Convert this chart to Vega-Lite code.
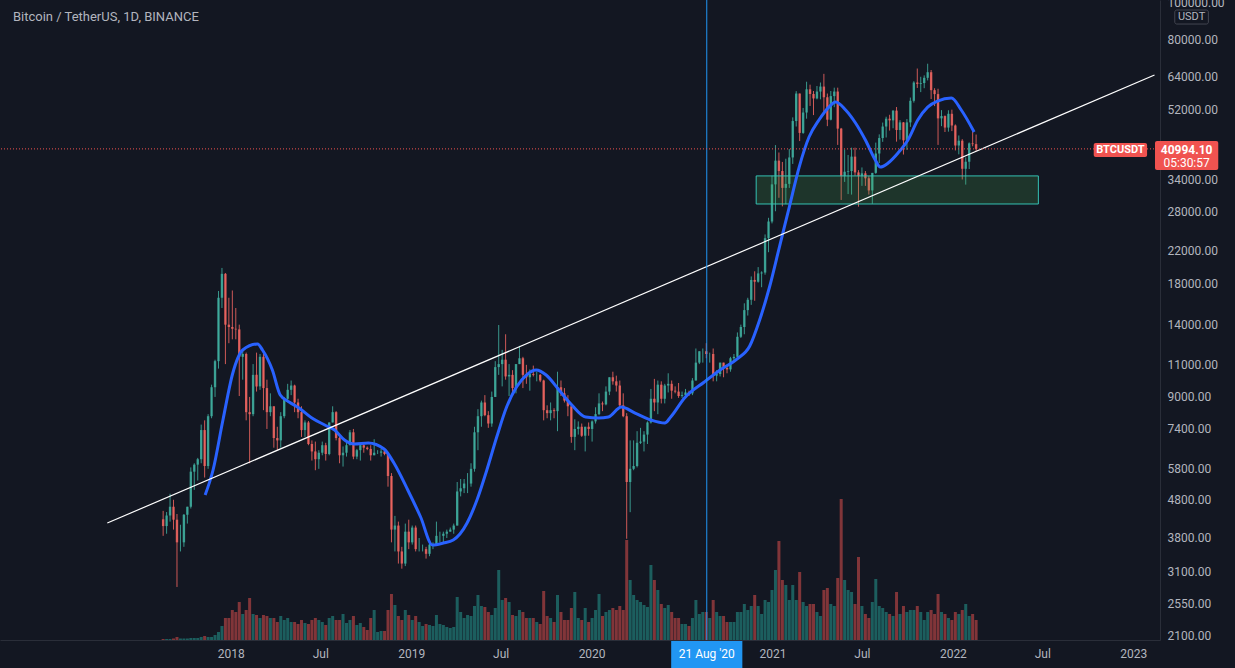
{
"$schema":"https://vega.github.io/schema/vega-lite/v6.json",
"width":1160,"height":640,
"autosize":{"type":"none"},
"padding":{"left":0,"top":0,"right":75,"bottom":28},
"background":"#131722",
"config":{"view":{"stroke":null},"font":"Roboto","text":{"font":"Roboto"}},
"datasets":{
"candles":[
{"d":"2017-08-17","o":4261,"h":4485,"l":3850,"c":4087,"v":1500},
{"d":"2017-08-24","o":4087,"h":4453,"l":3900,"c":4360,"v":1500},
{"d":"2017-08-31","o":4360,"h":4980,"l":4200,"c":4600,"v":1500},
{"d":"2017-09-07","o":4600,"h":4800,"l":4000,"c":4250,"v":2250},
{"d":"2017-09-14","o":4250,"h":4400,"l":2817,"c":3700,"v":4500},
{"d":"2017-09-21","o":3700,"h":4120,"l":3500,"c":3700,"v":2250},
{"d":"2017-09-28","o":3700,"h":4400,"l":3600,"c":4380,"v":2250},
{"d":"2017-10-05","o":4380,"h":4600,"l":4150,"c":4600,"v":2250},
{"d":"2017-10-12","o":4600,"h":5850,"l":4550,"c":5700,"v":3000},
{"d":"2017-10-19","o":5700,"h":6000,"l":5100,"c":5950,"v":3000},
{"d":"2017-10-26","o":5950,"h":6200,"l":5400,"c":6150,"v":3000},
{"d":"2017-11-02","o":6150,"h":7600,"l":6000,"c":7350,"v":4500},
{"d":"2017-11-09","o":7350,"h":7800,"l":5500,"c":5900,"v":6000},
{"d":"2017-11-16","o":5900,"h":8100,"l":5800,"c":8000,"v":4500},
{"d":"2017-11-23","o":8000,"h":9700,"l":7900,"c":9550,"v":4500},
{"d":"2017-11-30","o":9550,"h":11300,"l":9000,"c":11200,"v":7500},
{"d":"2017-12-07","o":11200,"h":17200,"l":10700,"c":16500,"v":12000},
{"d":"2017-12-14","o":16500,"h":19800,"l":15500,"c":19100,"v":21000},
{"d":"2017-12-21","o":19100,"h":19200,"l":11000,"c":14000,"v":33000},
{"d":"2017-12-28","o":14000,"h":16500,"l":12500,"c":13800,"v":33000},
{"d":"2018-01-04","o":13800,"h":17250,"l":12800,"c":13650,"v":45000},
{"d":"2018-01-11","o":13650,"h":15500,"l":12800,"c":13600,"v":42000},
{"d":"2018-01-18","o":13600,"h":14000,"l":9050,"c":11500,"v":57000},
{"d":"2018-01-25","o":11500,"h":12000,"l":10000,"c":11700,"v":39000},
{"d":"2018-02-01","o":11700,"h":11800,"l":7800,"c":8200,"v":45000},
{"d":"2018-02-08","o":8200,"h":9000,"l":6000,"c":8100,"v":63000},
{"d":"2018-02-15","o":8100,"h":11000,"l":8000,"c":10300,"v":39000},
{"d":"2018-02-22","o":10300,"h":11800,"l":9300,"c":9600,"v":37500},
{"d":"2018-03-01","o":9600,"h":11700,"l":9400,"c":11500,"v":33000},
{"d":"2018-03-08","o":11500,"h":11700,"l":8300,"c":9500,"v":37500},
{"d":"2018-03-15","o":9500,"h":10000,"l":7400,"c":8200,"v":36000},
{"d":"2018-03-22","o":8200,"h":9200,"l":8000,"c":8500,"v":33000},
{"d":"2018-03-29","o":8500,"h":8500,"l":6600,"c":7000,"v":33000},
{"d":"2018-04-05","o":7000,"h":7500,"l":6500,"c":6900,"v":27000},
{"d":"2018-04-12","o":6900,"h":8200,"l":6600,"c":8000,"v":36000},
{"d":"2018-04-19","o":8000,"h":9000,"l":7900,"c":8900,"v":30000},
{"d":"2018-04-26","o":8900,"h":9750,"l":8700,"c":9400,"v":33000},
{"d":"2018-05-03","o":9400,"h":9950,"l":9100,"c":9650,"v":27000},
{"d":"2018-05-10","o":9650,"h":9700,"l":8200,"c":8700,"v":27000},
{"d":"2018-05-17","o":8700,"h":8900,"l":7900,"c":8200,"v":24000},
{"d":"2018-05-24","o":8200,"h":8500,"l":7050,"c":7350,"v":30000},
{"d":"2018-05-31","o":7350,"h":7800,"l":7050,"c":7700,"v":25500},
{"d":"2018-06-07","o":7700,"h":7770,"l":6700,"c":6750,"v":24000},
{"d":"2018-06-14","o":6750,"h":6900,"l":6100,"c":6450,"v":30000},
{"d":"2018-06-21","o":6450,"h":6850,"l":5750,"c":6150,"v":33000},
{"d":"2018-06-28","o":6150,"h":6500,"l":5800,"c":6400,"v":30000},
{"d":"2018-07-05","o":6400,"h":6850,"l":6300,"c":6700,"v":27000},
{"d":"2018-07-12","o":6700,"h":6800,"l":6100,"c":6350,"v":22500},
{"d":"2018-07-19","o":6350,"h":7700,"l":6300,"c":7700,"v":33000},
{"d":"2018-07-26","o":7700,"h":8500,"l":7700,"c":8200,"v":36000},
{"d":"2018-08-02","o":8200,"h":8250,"l":6900,"c":7000,"v":30000},
{"d":"2018-08-09","o":7000,"h":7150,"l":6000,"c":6300,"v":30000},
{"d":"2018-08-16","o":6300,"h":6650,"l":5880,"c":6400,"v":39000},
{"d":"2018-08-23","o":6400,"h":6900,"l":6250,"c":6700,"v":25500},
{"d":"2018-08-30","o":6700,"h":7350,"l":6700,"c":7250,"v":30000},
{"d":"2018-09-06","o":7250,"h":7400,"l":6150,"c":6250,"v":36000},
{"d":"2018-09-13","o":6250,"h":6550,"l":6150,"c":6500,"v":22500},
{"d":"2018-09-20","o":6500,"h":6800,"l":6100,"c":6700,"v":25500},
{"d":"2018-09-27","o":6700,"h":6750,"l":6400,"c":6600,"v":19500},
{"d":"2018-10-04","o":6600,"h":6650,"l":6500,"c":6550,"v":15000},
{"d":"2018-10-11","o":6550,"h":6700,"l":6100,"c":6300,"v":33000},
{"d":"2018-10-18","o":6300,"h":6950,"l":6300,"c":6400,"v":45000},
{"d":"2018-10-25","o":6400,"h":6500,"l":6350,"c":6400,"v":12000},
{"d":"2018-11-01","o":6400,"h":6550,"l":6250,"c":6450,"v":13500},
{"d":"2018-11-08","o":6450,"h":6550,"l":6300,"c":6350,"v":13500},
{"d":"2018-11-15","o":6350,"h":6400,"l":5200,"c":5550,"v":45000},
{"d":"2018-11-22","o":5550,"h":5650,"l":3700,"c":4000,"v":69000},
{"d":"2018-11-29","o":4000,"h":4350,"l":3500,"c":4100,"v":52500},
{"d":"2018-12-06","o":4100,"h":4200,"l":3250,"c":3500,"v":36000},
{"d":"2018-12-13","o":3500,"h":3600,"l":3150,"c":3250,"v":30000},
{"d":"2018-12-20","o":3250,"h":4150,"l":3200,"c":3950,"v":45000},
{"d":"2018-12-27","o":3950,"h":4250,"l":3550,"c":3700,"v":37500},
{"d":"2019-01-03","o":3700,"h":4100,"l":3650,"c":4050,"v":30000},
{"d":"2019-01-10","o":4050,"h":4100,"l":3500,"c":3550,"v":36000},
{"d":"2019-01-17","o":3550,"h":3800,"l":3500,"c":3550,"v":27000},
{"d":"2019-01-24","o":3550,"h":3650,"l":3500,"c":3550,"v":21000},
{"d":"2019-01-31","o":3550,"h":3600,"l":3350,"c":3450,"v":24000},
{"d":"2019-02-07","o":3450,"h":3700,"l":3400,"c":3650,"v":22500},
{"d":"2019-02-14","o":3650,"h":3700,"l":3550,"c":3650,"v":21000},
{"d":"2019-02-21","o":3650,"h":4200,"l":3650,"c":3850,"v":37500},
{"d":"2019-02-28","o":3850,"h":3950,"l":3700,"c":3850,"v":24000},
{"d":"2019-03-07","o":3850,"h":3950,"l":3700,"c":3900,"v":22500},
{"d":"2019-03-14","o":3900,"h":4000,"l":3800,"c":3950,"v":19500},
{"d":"2019-03-21","o":3950,"h":4050,"l":3950,"c":4000,"v":18000},
{"d":"2019-03-28","o":4000,"h":4150,"l":3900,"c":4100,"v":19500},
{"d":"2019-04-04","o":4100,"h":5350,"l":4100,"c":5050,"v":64500},
{"d":"2019-04-11","o":5050,"h":5450,"l":4900,"c":5150,"v":42000},
{"d":"2019-04-18","o":5150,"h":5450,"l":5000,"c":5300,"v":33000},
{"d":"2019-04-25","o":5300,"h":5650,"l":5000,"c":5300,"v":37500},
{"d":"2019-05-02","o":5300,"h":6000,"l":5200,"c":5800,"v":36000},
{"d":"2019-05-09","o":5800,"h":7500,"l":5700,"c":7250,"v":51000},
{"d":"2019-05-16","o":7250,"h":8350,"l":6500,"c":8000,"v":67500},
{"d":"2019-05-23","o":8000,"h":8800,"l":7500,"c":8700,"v":51000},
{"d":"2019-05-30","o":8700,"h":9100,"l":8000,"c":8050,"v":49500},
{"d":"2019-06-06","o":8050,"h":8250,"l":7450,"c":7650,"v":42000},
{"d":"2019-06-13","o":7650,"h":9300,"l":7500,"c":9000,"v":37500},
{"d":"2019-06-20","o":9000,"h":11200,"l":9000,"c":10800,"v":48000},
{"d":"2019-06-27","o":10800,"h":13970,"l":10300,"c":11000,"v":105000},
{"d":"2019-07-04","o":11000,"h":12000,"l":9600,"c":11300,"v":60000},
{"d":"2019-07-11","o":11300,"h":13200,"l":10000,"c":10200,"v":63000},
{"d":"2019-07-18","o":10200,"h":11000,"l":9050,"c":10300,"v":57000},
{"d":"2019-07-25","o":10300,"h":10600,"l":9200,"c":9500,"v":37500},
{"d":"2019-08-01","o":9500,"h":11000,"l":9200,"c":11000,"v":36000},
{"d":"2019-08-08","o":11000,"h":12300,"l":11000,"c":11400,"v":45000},
{"d":"2019-08-15","o":11400,"h":11500,"l":9500,"c":10300,"v":42000},
{"d":"2019-08-22","o":10300,"h":10950,"l":9750,"c":10150,"v":33000},
{"d":"2019-08-29","o":10150,"h":10650,"l":9350,"c":10350,"v":33000},
{"d":"2019-09-05","o":10350,"h":10900,"l":10200,"c":10300,"v":33000},
{"d":"2019-09-12","o":10300,"h":10500,"l":9900,"c":10300,"v":27000},
{"d":"2019-09-19","o":10300,"h":10350,"l":9850,"c":9950,"v":24000},
{"d":"2019-09-26","o":9950,"h":10000,"l":7800,"c":8300,"v":73500},
{"d":"2019-10-03","o":8300,"h":8550,"l":7900,"c":8150,"v":36000},
{"d":"2019-10-10","o":8150,"h":8700,"l":7800,"c":8300,"v":33000},
{"d":"2019-10-17","o":8300,"h":8400,"l":7900,"c":8250,"v":27000},
{"d":"2019-10-24","o":8250,"h":10500,"l":7300,"c":9550,"v":67500},
{"d":"2019-10-31","o":9550,"h":9950,"l":9050,"c":9200,"v":42000},
{"d":"2019-11-07","o":9200,"h":9500,"l":8700,"c":8800,"v":30000},
{"d":"2019-11-14","o":8800,"h":9100,"l":8000,"c":8500,"v":30000},
{"d":"2019-11-21","o":8500,"h":8500,"l":6800,"c":7050,"v":48000},
{"d":"2019-11-28","o":7050,"h":7850,"l":6500,"c":7400,"v":72000},
{"d":"2019-12-05","o":7400,"h":7750,"l":7150,"c":7500,"v":33000},
{"d":"2019-12-12","o":7500,"h":7650,"l":7050,"c":7100,"v":30000},
{"d":"2019-12-19","o":7100,"h":7500,"l":6450,"c":7500,"v":48000},
{"d":"2019-12-26","o":7500,"h":7700,"l":7100,"c":7400,"v":27000},
{"d":"2020-01-02","o":7400,"h":7800,"l":6850,"c":7750,"v":33000},
{"d":"2020-01-09","o":7750,"h":8450,"l":7650,"c":8100,"v":45000},
{"d":"2020-01-16","o":8100,"h":9200,"l":8050,"c":8650,"v":69000},
{"d":"2020-01-23","o":8650,"h":8750,"l":8250,"c":8600,"v":36000},
{"d":"2020-01-30","o":8600,"h":9600,"l":8550,"c":9300,"v":42000},
{"d":"2020-02-06","o":9300,"h":10150,"l":9100,"c":10150,"v":45000},
{"d":"2020-02-13","o":10150,"h":10500,"l":9700,"c":9900,"v":48000},
{"d":"2020-02-20","o":9900,"h":10250,"l":9300,"c":9650,"v":45000},
{"d":"2020-02-27","o":9650,"h":9950,"l":8450,"c":8550,"v":51000},
{"d":"2020-03-05","o":8550,"h":9200,"l":7950,"c":8000,"v":45000},
{"d":"2020-03-12","o":8000,"h":8150,"l":3782,"c":5350,"v":150000},
{"d":"2020-03-19","o":5350,"h":6900,"l":4450,"c":5800,"v":90000},
{"d":"2020-03-26","o":5800,"h":6900,"l":5750,"c":5900,"v":67500},
{"d":"2020-04-02","o":5900,"h":7300,"l":5850,"c":6800,"v":60000},
{"d":"2020-04-09","o":6800,"h":7450,"l":6750,"c":6850,"v":57000},
{"d":"2020-04-16","o":6850,"h":7300,"l":6450,"c":7150,"v":52500},
{"d":"2020-04-23","o":7150,"h":7750,"l":6750,"c":7700,"v":49500},
{"d":"2020-04-30","o":7700,"h":9450,"l":7650,"c":8900,"v":112500},
{"d":"2020-05-07","o":8900,"h":10050,"l":8250,"c":8700,"v":90000},
{"d":"2020-05-14","o":8700,"h":9950,"l":8100,"c":9700,"v":75000},
{"d":"2020-05-21","o":9700,"h":9900,"l":8650,"c":8900,"v":54000},
{"d":"2020-05-28","o":8900,"h":9750,"l":8650,"c":9650,"v":48000},
{"d":"2020-06-04","o":9650,"h":10400,"l":9250,"c":9750,"v":52500},
{"d":"2020-06-11","o":9750,"h":9950,"l":8900,"c":9350,"v":42000},
{"d":"2020-06-18","o":9350,"h":9600,"l":9200,"c":9300,"v":33000},
{"d":"2020-06-25","o":9300,"h":9800,"l":8950,"c":9050,"v":33000},
{"d":"2020-07-02","o":9050,"h":9300,"l":8950,"c":9100,"v":24000},
{"d":"2020-07-09","o":9100,"h":9450,"l":9050,"c":9250,"v":24000},
{"d":"2020-07-16","o":9250,"h":9350,"l":9050,"c":9200,"v":21000},
{"d":"2020-07-23","o":9200,"h":10100,"l":9100,"c":9950,"v":33000},
{"d":"2020-07-30","o":9950,"h":12100,"l":9950,"c":11100,"v":60000},
{"d":"2020-08-06","o":11100,"h":11900,"l":11000,"c":11900,"v":39000},
{"d":"2020-08-13","o":11900,"h":12100,"l":11100,"c":11900,"v":42000},
{"d":"2020-08-20","o":11900,"h":12500,"l":11400,"c":11700,"v":42000},
{"d":"2020-08-27","o":11700,"h":11800,"l":11100,"c":11700,"v":33000},
{"d":"2020-09-03","o":11700,"h":12100,"l":9900,"c":10250,"v":60000},
{"d":"2020-09-10","o":10250,"h":10600,"l":9900,"c":10350,"v":42000},
{"d":"2020-09-17","o":10350,"h":11100,"l":10200,"c":11100,"v":36000},
{"d":"2020-09-24","o":11100,"h":11100,"l":10150,"c":10750,"v":36000},
{"d":"2020-10-01","o":10750,"h":10900,"l":10400,"c":10650,"v":27000},
{"d":"2020-10-08","o":10650,"h":11500,"l":10500,"c":11400,"v":27000},
{"d":"2020-10-15","o":11400,"h":11700,"l":11200,"c":11500,"v":27000},
{"d":"2020-10-22","o":11500,"h":13350,"l":11400,"c":13000,"v":42000},
{"d":"2020-10-29","o":13000,"h":14000,"l":12900,"c":13800,"v":42000},
{"d":"2020-11-05","o":13800,"h":15950,"l":13200,"c":15300,"v":54000},
{"d":"2020-11-12","o":15300,"h":16500,"l":14800,"c":16300,"v":45000},
{"d":"2020-11-19","o":16300,"h":18800,"l":15800,"c":18400,"v":51000},
{"d":"2020-11-26","o":18400,"h":19400,"l":16200,"c":18200,"v":67500},
{"d":"2020-12-03","o":18200,"h":19900,"l":18100,"c":19150,"v":51000},
{"d":"2020-12-10","o":19150,"h":19400,"l":17600,"c":19250,"v":39000},
{"d":"2020-12-17","o":19250,"h":24300,"l":19000,"c":23750,"v":60000},
{"d":"2020-12-24","o":23750,"h":26900,"l":21800,"c":26300,"v":57000},
{"d":"2020-12-31","o":26300,"h":34800,"l":26000,"c":33000,"v":75000},
{"d":"2021-01-07","o":33000,"h":41950,"l":28000,"c":38150,"v":105000},
{"d":"2021-01-14","o":38150,"h":40100,"l":30400,"c":35800,"v":148500},
{"d":"2021-01-21","o":35800,"h":37850,"l":28850,"c":32300,"v":90000},
{"d":"2021-01-28","o":32300,"h":38600,"l":29250,"c":33100,"v":82500},
{"d":"2021-02-04","o":33100,"h":40950,"l":32300,"c":38900,"v":60000},
{"d":"2021-02-11","o":38900,"h":49700,"l":37400,"c":48600,"v":82500},
{"d":"2021-02-18","o":48600,"h":58350,"l":47000,"c":57500,"v":60000},
{"d":"2021-02-25","o":57500,"h":57500,"l":43000,"c":45200,"v":102000},
{"d":"2021-03-04","o":45200,"h":52650,"l":44950,"c":51200,"v":57000},
{"d":"2021-03-11","o":51200,"h":61800,"l":49300,"c":59000,"v":51000},
{"d":"2021-03-18","o":59000,"h":60700,"l":53300,"c":57350,"v":54000},
{"d":"2021-03-25","o":57350,"h":58400,"l":50400,"c":55800,"v":54000},
{"d":"2021-04-01","o":55800,"h":60200,"l":55500,"c":58200,"v":42000},
{"d":"2021-04-08","o":58200,"h":61500,"l":55500,"c":60000,"v":36000},
{"d":"2021-04-15","o":60000,"h":64850,"l":51500,"c":56200,"v":75000},
{"d":"2021-04-22","o":56200,"h":57500,"l":47100,"c":49000,"v":78000},
{"d":"2021-04-29","o":49000,"h":58400,"l":48800,"c":56600,"v":54000},
{"d":"2021-05-06","o":56600,"h":59600,"l":52900,"c":58200,"v":51000},
{"d":"2021-05-13","o":58200,"h":59600,"l":42000,"c":46400,"v":93000},
{"d":"2021-05-20","o":46400,"h":46600,"l":30000,"c":34700,"v":211500},
{"d":"2021-05-27","o":34700,"h":40850,"l":33500,"c":35650,"v":90000},
{"d":"2021-06-03","o":35650,"h":39500,"l":31100,"c":35800,"v":75000},
{"d":"2021-06-10","o":35800,"h":41300,"l":31000,"c":39100,"v":72000},
{"d":"2021-06-17","o":39100,"h":41300,"l":34800,"c":35500,"v":54000},
{"d":"2021-06-24","o":35500,"h":36000,"l":28800,"c":34700,"v":124500},
{"d":"2021-07-01","o":34700,"h":36600,"l":32700,"c":35300,"v":51000},
{"d":"2021-07-08","o":35300,"h":35800,"l":32700,"c":34250,"v":39000},
{"d":"2021-07-15","o":34250,"h":34700,"l":31000,"c":31800,"v":33000},
{"d":"2021-07-22","o":31800,"h":35400,"l":29300,"c":35400,"v":57000},
{"d":"2021-07-29","o":35400,"h":42600,"l":35200,"c":39850,"v":91500},
{"d":"2021-08-05","o":39850,"h":44800,"l":37600,"c":43800,"v":51000},
{"d":"2021-08-12","o":43800,"h":48150,"l":42800,"c":47000,"v":48000},
{"d":"2021-08-19","o":47000,"h":49900,"l":43950,"c":49300,"v":42000},
{"d":"2021-08-26","o":49300,"h":50500,"l":45850,"c":48800,"v":39000},
{"d":"2021-09-02","o":48800,"h":51900,"l":46500,"c":51800,"v":36000},
{"d":"2021-09-09","o":51800,"h":52950,"l":42850,"c":46000,"v":72000},
{"d":"2021-09-16","o":46000,"h":48850,"l":43400,"c":48200,"v":39000},
{"d":"2021-09-23","o":48200,"h":48300,"l":39600,"c":43200,"v":51000},
{"d":"2021-09-30","o":43200,"h":49200,"l":40750,"c":48200,"v":42000},
{"d":"2021-10-07","o":48200,"h":56100,"l":46900,"c":55000,"v":45000},
{"d":"2021-10-14","o":55000,"h":62000,"l":54400,"c":61500,"v":45000},
{"d":"2021-10-21","o":61500,"h":67000,"l":59500,"c":61000,"v":51000},
{"d":"2021-10-28","o":61000,"h":63700,"l":58000,"c":61300,"v":42000},
{"d":"2021-11-04","o":61300,"h":64250,"l":59400,"c":63300,"v":30000},
{"d":"2021-11-11","o":63300,"h":69000,"l":62300,"c":65500,"v":42000},
{"d":"2021-11-18","o":65500,"h":66400,"l":55600,"c":58700,"v":45000},
{"d":"2021-11-25","o":58700,"h":59400,"l":53250,"c":57300,"v":39000},
{"d":"2021-12-02","o":57300,"h":59200,"l":42000,"c":49400,"v":69000},
{"d":"2021-12-09","o":49400,"h":51950,"l":47100,"c":50100,"v":42000},
{"d":"2021-12-16","o":50100,"h":50300,"l":45450,"c":46700,"v":39000},
{"d":"2021-12-23","o":46700,"h":51900,"l":45550,"c":50800,"v":33000},
{"d":"2021-12-30","o":50800,"h":52100,"l":45700,"c":47300,"v":30000},
{"d":"2022-01-06","o":47300,"h":47600,"l":40600,"c":41850,"v":42000},
{"d":"2022-01-13","o":41850,"h":44500,"l":39650,"c":43100,"v":39000},
{"d":"2022-01-20","o":43100,"h":43500,"l":34000,"c":36300,"v":45000},
{"d":"2022-01-27","o":36300,"h":38900,"l":32950,"c":37900,"v":54000},
{"d":"2022-02-03","o":37900,"h":42650,"l":36250,"c":42400,"v":36000},
{"d":"2022-02-10","o":42400,"h":45850,"l":41650,"c":42200,"v":39000},
{"d":"2022-02-17","o":42200,"h":44750,"l":40500,"c":40994,"v":30000}
],
"ma":[
{"d":"2017-11-10","p":4941},{"d":"2017-11-26","p":5758},{"d":"2017-12-16","p":7816},{"d":"2018-01-05","p":10418},
{"d":"2018-01-25","p":11989},{"d":"2018-02-24","p":12436},{"d":"2018-03-06","p":11989},{"d":"2018-03-26","p":10610},
{"d":"2018-04-11","p":9106},{"d":"2018-04-29","p":8725},{"d":"2018-05-19","p":8410},{"d":"2018-06-14","p":7912},
{"d":"2018-07-10","p":7581},{"d":"2018-07-30","p":7352},{"d":"2018-08-19","p":6917},{"d":"2018-09-08","p":6749},
{"d":"2018-10-06","p":6791},{"d":"2018-11-07","p":6546},{"d":"2018-11-27","p":6009},{"d":"2018-12-25","p":5095},
{"d":"2019-01-20","p":4320},{"d":"2019-02-13","p":3640},{"d":"2019-03-07","p":3685},{"d":"2019-03-27","p":3753},
{"d":"2019-04-24","p":4164},{"d":"2019-05-14","p":4793},{"d":"2019-06-03","p":5758},{"d":"2019-06-23","p":7044},
{"d":"2019-07-13","p":8462},{"d":"2019-08-02","p":9562},{"d":"2019-08-22","p":10290},{"d":"2019-09-11","p":10610},
{"d":"2019-10-01","p":10290},{"d":"2019-10-27","p":9389},{"d":"2019-11-22","p":8566},{"d":"2019-12-20","p":7959},
{"d":"2020-01-15","p":7912},{"d":"2020-02-04","p":7959},{"d":"2020-03-01","p":8462},{"d":"2020-03-29","p":8157},
{"d":"2020-04-30","p":7816},{"d":"2020-05-28","p":7673},{"d":"2020-06-09","p":7959},{"d":"2020-07-07","p":8942},
{"d":"2020-08-16","p":9860},{"d":"2020-09-17","p":10610},{"d":"2020-10-21","p":11347},{"d":"2020-11-16","p":12285},
{"d":"2020-12-06","p":14401},{"d":"2020-12-26","p":17624},{"d":"2021-01-15","p":22500},{"d":"2021-02-04","p":28734},
{"d":"2021-02-24","p":36690},{"d":"2021-03-16","p":44080},{"d":"2021-04-05","p":48910},{"d":"2021-04-25","p":52940},
{"d":"2021-05-09","p":54600},{"d":"2021-05-29","p":51990},{"d":"2021-06-18","p":48020},{"d":"2021-07-08","p":43280},
{"d":"2021-07-28","p":38300},{"d":"2021-08-07","p":36690},{"d":"2021-08-23","p":37600},{"d":"2021-09-12","p":39970},
{"d":"2021-10-02","p":43280},{"d":"2021-10-22","p":48910},{"d":"2021-11-11","p":52940},{"d":"2021-12-01","p":54920},
{"d":"2021-12-29","p":55940},{"d":"2022-01-18","p":51990},{"d":"2022-02-13","p":45450}
]
},
"layer":[
{"data":{"name":"candles"},
 "mark":{"type":"bar","size":3,"opacity":0.5},
 "encoding":{
  "x":{"field":"d","type":"temporal",
   "scale":{"domain":[{"year":2016,"month":10,"date":1},{"year":2023,"month":2,"date":14}]},
   "axis":{"title":null,"values":[{"year":2018,"month":1,"date":1},{"year":2018,"month":7,"date":1},{"year":2019,"month":1,"date":1},{"year":2019,"month":7,"date":1},{"year":2020,"month":1,"date":1},{"year":2021,"month":1,"date":1},{"year":2021,"month":7,"date":1},{"year":2022,"month":1,"date":1},{"year":2022,"month":7,"date":1},{"year":2023,"month":1,"date":1}],
    "labelExpr":"month(datum.value) == 0 ? timeFormat(datum.value, '%Y') : 'Jul'",
    "tickSize":0,"labelPadding":8,"domainColor":"#2a2e39","grid":false,"labelColor":"#b2b5be","labelFontSize":12,"labelFont":"Roboto","labelOverlap":false,"labelFlush":false}},
  "y":{"field":"v","type":"quantitative","scale":{"domain":[0,960000]},"axis":null},
  "color":{"condition":{"test":"datum.c >= datum.o","value":"#26a69a"},"value":"#ef5350"}
 }},
{"layer":[
 {"data":{"name":"candles"},
  "mark":{"type":"rule","strokeWidth":1,"opacity":0.85},
  "encoding":{
   "x":{"field":"d","type":"temporal"},
   "y":{"field":"l","type":"quantitative",
    "scale":{"type":"log","domain":[2037,101850],"nice":false,"zero":false},
    "axis":{"orient":"right","title":null,"values":[100000,80000,64000,52000,34000,28000,22000,18000,14000,11000,9000,7400,5800,4800,3800,3100,2550,2100],
     "format":".2f","labelAlign":"left","labelBaseline":"middle","labelPadding":7,"tickSize":0,"domainColor":"#2a2e39","grid":false,"labelColor":"#b2b5be","labelFontSize":12,"labelFont":"Roboto","labelOverlap":false,"labelFlush":false}},
   "y2":{"field":"h"},
   "color":{"condition":{"test":"datum.c >= datum.o","value":"#3fae9f"},"value":"#ef6560"}
  }},
 {"data":{"name":"candles"},
  "mark":{"type":"bar","size":2.4,"opacity":0.85},
  "encoding":{
   "x":{"field":"d","type":"temporal"},
   "y":{"field":"o","type":"quantitative"},
   "y2":{"field":"c"},
   "color":{"condition":{"test":"datum.c >= datum.o","value":"#3fae9f"},"value":"#ef6560"}
  }},
 {"data":{"values":[{"d1":"2020-11-29","d2":"2022-06-23","p1":29270,"p2":34750}]},
  "mark":{"type":"rect","fill":"#4caf50","fillOpacity":0.2,"stroke":"#35c2b4","strokeWidth":1},
  "encoding":{"x":{"field":"d1","type":"temporal"},"x2":{"field":"d2"},"y":{"field":"p1","type":"quantitative"},"y2":{"field":"p2"}}},
 {"data":{"name":"ma"},
  "mark":{"type":"line","strokeWidth":3,"color":"#2962ff","interpolate":"monotone"},
  "encoding":{"x":{"field":"d","type":"temporal"},"y":{"field":"p","type":"quantitative"}}},
 {"data":{"values":[{"d":"2017-04-26","p":4164},{"d":"2023-02-13","p":64400}]},
  "mark":{"type":"line","strokeWidth":1.2,"color":"#ffffff"},
  "encoding":{"x":{"field":"d","type":"temporal"},"y":{"field":"p","type":"quantitative"}}},
 {"data":{"values":[{"d":"2020-08-21"}]},
  "mark":{"type":"rule","strokeWidth":1,"color":"#2196f3"},
  "encoding":{"x":{"field":"d","type":"temporal"}}},
 {"data":{"values":[{"p":40994.1}]},
  "mark":{"type":"rule","strokeWidth":1,"color":"#ef5350","strokeDash":[1,2]},
  "encoding":{"y":{"field":"p","type":"quantitative"}}},
 {"data":{"values":[{"d":"2016-10-17","p":91770,"t":"Bitcoin / TetherUS, 1D, BINANCE"}]},
  "mark":{"type":"text","align":"left","baseline":"middle","fontSize":13,"color":"#b2b5be","font":"Roboto"},
  "encoding":{"x":{"field":"d","type":"temporal"},"y":{"field":"p","type":"quantitative"},"text":{"field":"t"}}},
 {"data":{"values":[{"d1":"2022-10-13","d2":"2023-01-29","p1":39010,"p2":42490}]},
  "mark":{"type":"rect","fill":"#f05350","cornerRadius":2},
  "encoding":{"x":{"field":"d1","type":"temporal"},"x2":{"field":"d2"},"y":{"field":"p1","type":"quantitative"},"y2":{"field":"p2"}}},
 {"data":{"values":[{"d":"2022-12-06","p":40720,"t":"BTCUSDT"}]},
  "mark":{"type":"text","align":"center","baseline":"middle","fontSize":11,"fontWeight":"bold","color":"#ffffff","font":"Roboto"},
  "encoding":{"x":{"field":"d","type":"temporal"},"y":{"field":"p","type":"quantitative"},"text":{"field":"t"}}},
 {"data":{"values":[{"d1":"2023-02-14","d2":"2023-06-22","p1":36030,"p2":43010}]},
  "mark":{"type":"rect","fill":"#f05350","cornerRadius":2},
  "encoding":{"x":{"field":"d1","type":"temporal"},"x2":{"field":"d2"},"y":{"field":"p1","type":"quantitative"},"y2":{"field":"p2"}}},
 {"data":{"values":[{"d":"2023-04-19","p":40835,"t":"40994.10"}]},
  "mark":{"type":"text","align":"center","baseline":"middle","fontSize":12,"fontWeight":"bold","color":"#ffffff","font":"Roboto"},
  "encoding":{"x":{"field":"d","type":"temporal"},"y":{"field":"p","type":"quantitative"},"text":{"field":"t"}}},
 {"data":{"values":[{"d":"2023-04-19","p":37600,"t":"05:30:57"}]},
  "mark":{"type":"text","align":"center","baseline":"middle","fontSize":12,"color":"#ffffff","font":"Roboto"},
  "encoding":{"x":{"field":"d","type":"temporal"},"y":{"field":"p","type":"quantitative"},"text":{"field":"t"}}},
 {"data":{"values":[{"d1":"2023-03-26","d2":"2023-06-02","p1":87930,"p2":95790}]},
  "mark":{"type":"rect","fill":"#131722","stroke":"#434651","strokeWidth":1,"cornerRadius":2},
  "encoding":{"x":{"field":"d1","type":"temporal"},"x2":{"field":"d2"},"y":{"field":"p1","type":"quantitative"},"y2":{"field":"p2"}}},
 {"data":{"values":[{"d":"2023-04-29","p":91770,"t":"USDT"}]},
  "mark":{"type":"text","align":"center","baseline":"middle","fontSize":11,"color":"#b2b5be","font":"Roboto"},
  "encoding":{"x":{"field":"d","type":"temporal"},"y":{"field":"p","type":"quantitative"},"text":{"field":"t"}}},
 {"data":{"values":[{"d1":"2020-06-10","d2":"2020-11-01","p1":1716,"p2":2024}]},
  "mark":{"type":"rect","fill":"#2196f3"},
  "encoding":{"x":{"field":"d1","type":"temporal"},"x2":{"field":"d2"},"y":{"field":"p1","type":"quantitative"},"y2":{"field":"p2"}}},
 {"data":{"values":[{"d":"2020-08-21","p":1870,"t":"21 Aug '20"}]},
  "mark":{"type":"text","align":"center","baseline":"middle","fontSize":12,"color":"#ffffff","font":"Roboto"},
  "encoding":{"x":{"field":"d","type":"temporal"},"y":{"field":"p","type":"quantitative"},"text":{"field":"t"}}}
 ]}
],
"resolve":{"scale":{"y":"independent"}}
}
